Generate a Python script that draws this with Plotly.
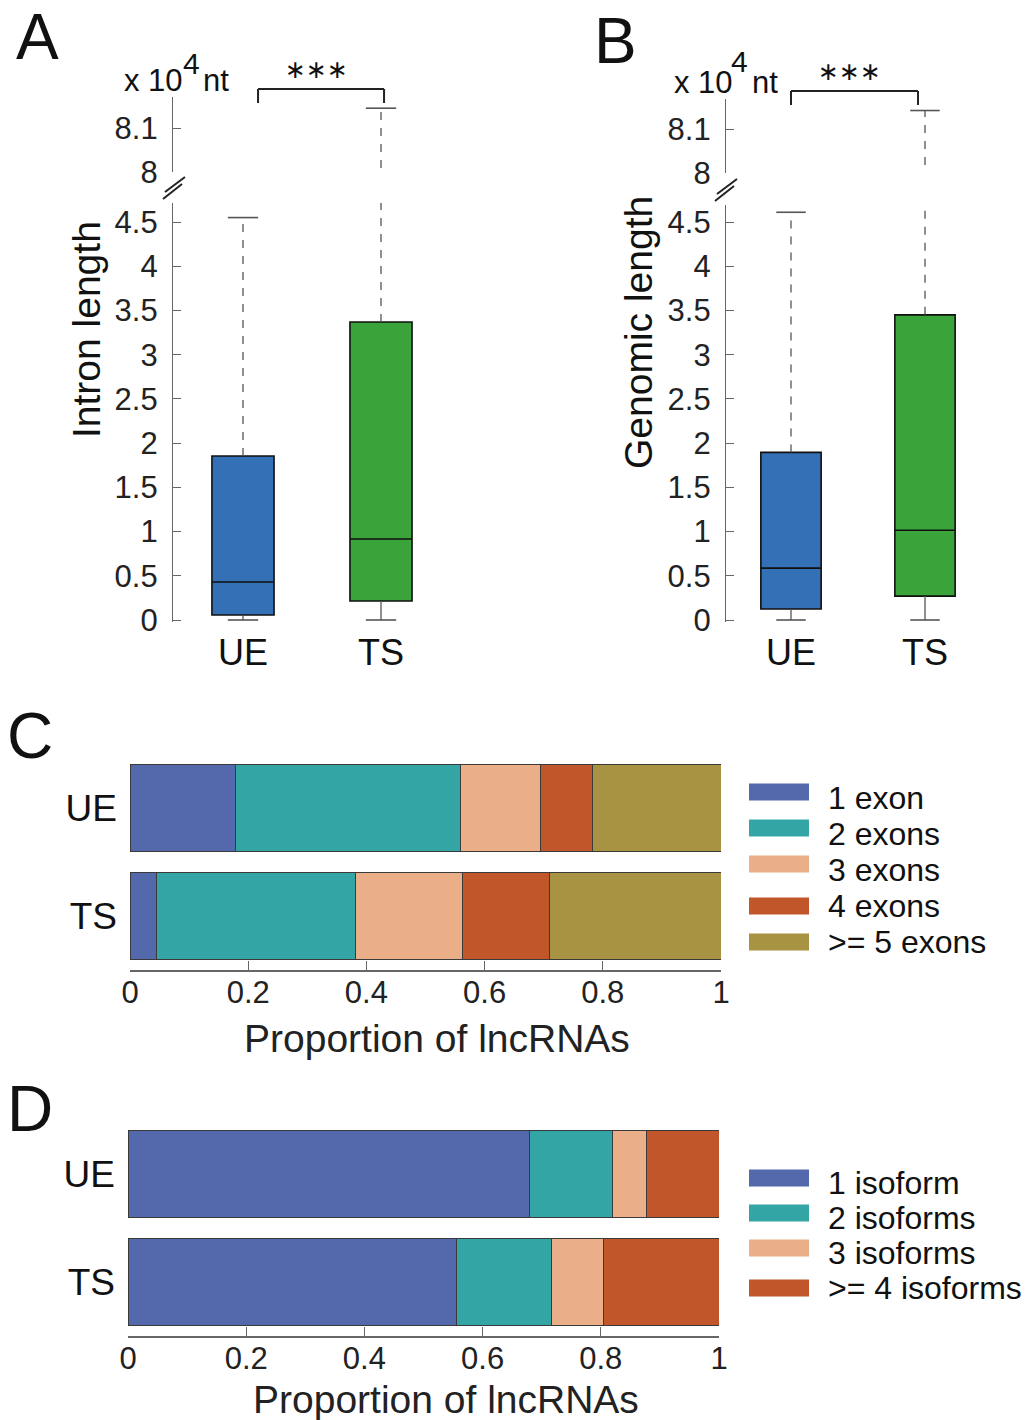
import plotly.graph_objects as go

# ---------------- data ----------------
groups = ["UE", "TS"]
# Panel A: intron length (x10^4 nt)
intron_q1 = [0.057, 0.215]
intron_median = [0.43, 0.916]
intron_q3 = [1.855, 3.37]
intron_lower = [0.0, 0.0]
intron_upper = [4.55, 8.145]
# Panel B: genomic length (x10^4 nt)
genomic_q1 = [0.124, 0.27]
genomic_median = [0.586, 1.015]
genomic_q3 = [1.895, 3.45]
genomic_lower = [0.0, 0.0]
genomic_upper = [4.61, 8.142]
box_colors = ["#3370b5", "#3aa33a"]

lower_ticks = [0, 0.5, 1, 1.5, 2, 2.5, 3, 3.5, 4, 4.5]
upper_ticks = [8, 8.1]

# Panel C: exon numbers
exon_labels = ["1 exon", "2 exons", "3 exons", "4 exons", ">= 5 exons"]
exon_UE = [0.178, 0.382, 0.135, 0.088, 0.217]
exon_TS = [0.044, 0.337, 0.182, 0.146, 0.291]
# Panel D: isoform numbers
isoform_labels = ["1 isoform", "2 isoforms", "3 isoforms", ">= 4 isoforms"]
iso_UE = [0.680, 0.139, 0.059, 0.122]
iso_TS = [0.555, 0.161, 0.088, 0.196]
seg_colors = ["#5369ab", "#33a5a5", "#eaaf88", "#c0562a", "#a89342"]
prop_ticks = [0, 0.2, 0.4, 0.6, 0.8, 1]
prop_ticktext = ["0", "0.2", "0.4", "0.6", "0.8", "1"]

# ---------------- layout helpers ----------------
W, H = 1029, 1420
FONT = "Liberation Sans, Arial, Helvetica, sans-serif"
AX = "#666666"


def px(x):
    return x / W


def py(y):
    return 1 - y / H


fig = go.Figure()


def add_box_panel(xa, ya_lo, ya_hi, q1, med, q3, lo, up):
    for i, g in enumerate(groups):
        pos = i + 1
        fig.add_trace(go.Box(
            x=[pos], q1=[q1[i]], median=[med[i]], q3=[q3[i]],
            lowerfence=[q1[i]], upperfence=[q3[i]], width=0.45,
            fillcolor=box_colors[i], line=dict(color="#111111", width=1.6),
            whiskerwidth=0, boxpoints=False, xaxis=xa, yaxis=ya_lo,
            showlegend=False, hoverinfo="skip"))
        for ya in (ya_lo, ya_hi):
            fig.add_trace(go.Scatter(
                x=[pos, pos], y=[q3[i], up[i]], mode="lines",
                line=dict(color="#555555", width=1.3, dash="8px,8px"),
                xaxis=xa, yaxis=ya, showlegend=False, hoverinfo="skip"))
            fig.add_trace(go.Scatter(
                x=[pos - 0.11, pos + 0.11], y=[up[i], up[i]], mode="lines",
                line=dict(color="#555555", width=1.6),
                xaxis=xa, yaxis=ya, showlegend=False, hoverinfo="skip"))
        fig.add_trace(go.Scatter(
            x=[pos, pos], y=[lo[i], q1[i]], mode="lines",
            line=dict(color="#555555", width=1.3),
            xaxis=xa, yaxis=ya_lo, showlegend=False, hoverinfo="skip"))
        fig.add_trace(go.Scatter(
            x=[pos - 0.11, pos + 0.11], y=[lo[i], lo[i]], mode="lines",
            line=dict(color="#555555", width=1.6),
            xaxis=xa, yaxis=ya_lo, showlegend=False, hoverinfo="skip"))


add_box_panel("x", "y", "y2", intron_q1, intron_median, intron_q3, intron_lower, intron_upper)
add_box_panel("x2", "y3", "y4", genomic_q1, genomic_median, genomic_q3, genomic_lower, genomic_upper)

# stacked bars
for i, lab in enumerate(exon_labels):
    fig.add_trace(go.Bar(
        y=groups, x=[exon_UE[i], exon_TS[i]], orientation="h", name=lab,
        marker=dict(color=seg_colors[i], line=dict(color="#3a3a3a", width=1)),
        width=0.8, xaxis="x3", yaxis="y5", showlegend=False, hoverinfo="skip"))
for i, lab in enumerate(isoform_labels):
    fig.add_trace(go.Bar(
        y=groups, x=[iso_UE[i], iso_TS[i]], orientation="h", name=lab,
        marker=dict(color=seg_colors[i], line=dict(color="#3a3a3a", width=1)),
        width=0.8, xaxis="x4", yaxis="y6", showlegend=False, hoverinfo="skip"))


def box_xaxis(dom_l, dom_r, ue_px, ts_px, anchor):
    s = ts_px - ue_px
    return dict(domain=[px(dom_l), px(dom_r)],
                range=[1 - (ue_px - dom_l) / s, 2 + (dom_r - ts_px) / s],
                tickvals=[1, 2], ticktext=groups, showline=False, ticks="",
                showgrid=False, zeroline=False, anchor=anchor, automargin=False,
                tickfont=dict(size=36, color="#111"), ticklabelstandoff=6)


def lin_yaxis(top_px, bot_px, v_a, px_a, v_b, px_b, tickvals, anchor):
    s = (px_a - px_b) / (v_b - v_a)  # pixels per unit
    r0 = v_a - (bot_px - px_a) / s
    r1 = v_a + (px_a - top_px) / s
    return dict(domain=[py(bot_px), py(top_px)], range=[r0, r1],
                tickvals=tickvals, ticktext=[("%g" % v) for v in tickvals],
                showline=True, linecolor=AX, linewidth=1.3, ticks="inside",
                ticklen=8, tickcolor=AX, tickwidth=1.3, showgrid=False,
                zeroline=False, anchor=anchor, automargin=False,
                tickfont=dict(size=31, color="#222"), ticklabelstandoff=8)


def bar_xaxis(dom_l, dom_r, anchor):
    return dict(domain=[px(dom_l), px(dom_r)], range=[0, 1],
                tickvals=prop_ticks, ticktext=prop_ticktext,
                showline=True, linecolor=AX, linewidth=1.5, ticks="inside",
                ticklen=9, tickcolor=AX, tickwidth=1.3, showgrid=False,
                zeroline=False, anchor=anchor, automargin=False,
                tickfont=dict(size=31, color="#222"), ticklabelstandoff=-6)


def bar_yaxis(top_px, axis_px, anchor):
    # category centers: TS=0, UE=1 ; 108 px per category
    s = 108.0
    ue_c = top_px + 54
    return dict(domain=[py(axis_px), py(top_px)],
                range=[1 - (axis_px - ue_c) / s, 1.5],
                type="category", categoryorder="array", categoryarray=["TS", "UE"],
                showline=False, ticks="", showgrid=False, zeroline=False,
                anchor=anchor, automargin=False, tickfont=dict(size=37, color="#111"),
                ticklabelstandoff=12)


fig.update_layout(
    width=W, height=H, margin=dict(l=0, r=0, t=0, b=0, pad=0, autoexpand=False),
    paper_bgcolor="white", plot_bgcolor="rgba(0,0,0,0)",
    font=dict(family=FONT, color="#111"), barmode="stack", boxmode="overlay",
    showlegend=False,
    xaxis=box_xaxis(173, 450, 243, 381, "y"),
    yaxis=lin_yaxis(203, 622, 0, 620, 4.5, 222, lower_ticks, "x"),
    yaxis2=lin_yaxis(97, 172, 8.0, 172, 8.1, 128, upper_ticks, "x"),
    xaxis2=box_xaxis(726, 995, 791, 925, "y3"),
    yaxis3=lin_yaxis(205, 622, 0, 620, 4.5, 222, lower_ticks, "x2"),
    yaxis4=lin_yaxis(99, 173, 8.0, 173, 8.1, 129, upper_ticks, "x2"),
    xaxis3=bar_xaxis(130, 721, "y5"),
    yaxis5=bar_yaxis(754, 970, "x3"),
    xaxis4=bar_xaxis(128, 719, "y6"),
    yaxis6=bar_yaxis(1120, 1336, "x4"),
)

shapes = []
ann = []


def paper_line(x0, y0, x1, y1, color="#222", width=2):
    shapes.append(dict(type="line", xref="paper", yref="paper",
                       x0=px(x0), y0=py(y0), x1=px(x1), y1=py(y1),
                       line=dict(color=color, width=width)))


def text(x, y, s, size, xanchor="center", angle=0, color="#111"):
    ann.append(dict(x=px(x), y=py(y), xref="paper", yref="paper", text=s,
                    showarrow=False, xanchor=xanchor, yanchor="middle",
                    textangle=angle, font=dict(size=size, family=FONT, color=color)))


# axis breaks
for (a, b, c, d) in [(163, 199, 182, 184), (165, 192, 185, 177)]:
    paper_line(a, b, c, d, color="#222", width=2)
for (a, b, c, d) in [(715, 201, 734, 186), (717, 194, 737, 179)]:
    paper_line(a, b, c, d, color="#222", width=2)

# significance brackets (x in data units of each panel, y in paper)
for xref, xa, xb, yt, yb in [("x", 1.109, 2.022, 89, 103), ("x2", 1.0, 1.948, 91, 105)]:
    for (x0, y0, x1, y1) in [(xa, yb, xa, yt), (xa, yt, xb, yt), (xb, yt, xb, yb)]:
        shapes.append(dict(type="line", xref=xref, yref="paper", x0=x0, x1=x1,
                           y0=py(y0), y1=py(y1), line=dict(color="#222", width=2)))
for xref, xc, yc in [("x", 1.529, 69), ("x2", 1.44, 71)]:
    ann.append(dict(x=xc, y=py(yc), xref=xref, yref="paper", text="∗∗∗",
                    showarrow=False, xanchor="center", yanchor="middle",
                    font=dict(size=25, family="DejaVu Sans", color="#111")))

# unit labels (x 10^4 nt)
for (xr, yc, xs, ys, xn) in [(185, 80, 191, 63, 201), (735, 82, 739, 62, 750)]:
    text(xr, yc, "x 10", 31, xanchor="right")
    text(xs, ys, "4", 30)
    text(xn, yc, "nt", 31, xanchor="left")

# axis titles
text(86, 330, "Intron length", 39, angle=-90)
text(638, 333, "Genomic length", 39, angle=-90)
text(437, 1038, "Proportion of lncRNAs", 39, color="#222")
text(446, 1399, "Proportion of lncRNAs", 39, color="#222")

# panel letters
text(37, 37, "A", 64)
text(615, 41, "B", 64)
text(30, 736, "C", 64)
text(30, 1109, "D", 64)

# legends
for i, lab in enumerate(exon_labels):
    ty = 798 + 36 * i
    by = ty - 6 if i < 3 else ty
    shapes.append(dict(type="rect", xref="paper", yref="paper",
                       x0=px(749), x1=px(809), y0=py(by + 8.5), y1=py(by - 8.5),
                       fillcolor=seg_colors[i], line=dict(width=0)))
    text(826, ty, lab, 32, xanchor="left")
for i, lab in enumerate(isoform_labels):
    ty = 1183 + 35 * i
    by = ty - 5 if i < 3 else ty
    shapes.append(dict(type="rect", xref="paper", yref="paper",
                       x0=px(749), x1=px(809), y0=py(by + 8.5), y1=py(by - 8.5),
                       fillcolor=seg_colors[i], line=dict(width=0)))
    text(826, ty, lab, 32, xanchor="left")

fig.update_layout(shapes=shapes, annotations=ann)
fig.write_html("out.html", config={"displayModeBar": False},
               post_script="document.body.style.margin='0';document.body.style.overflow='hidden';")
